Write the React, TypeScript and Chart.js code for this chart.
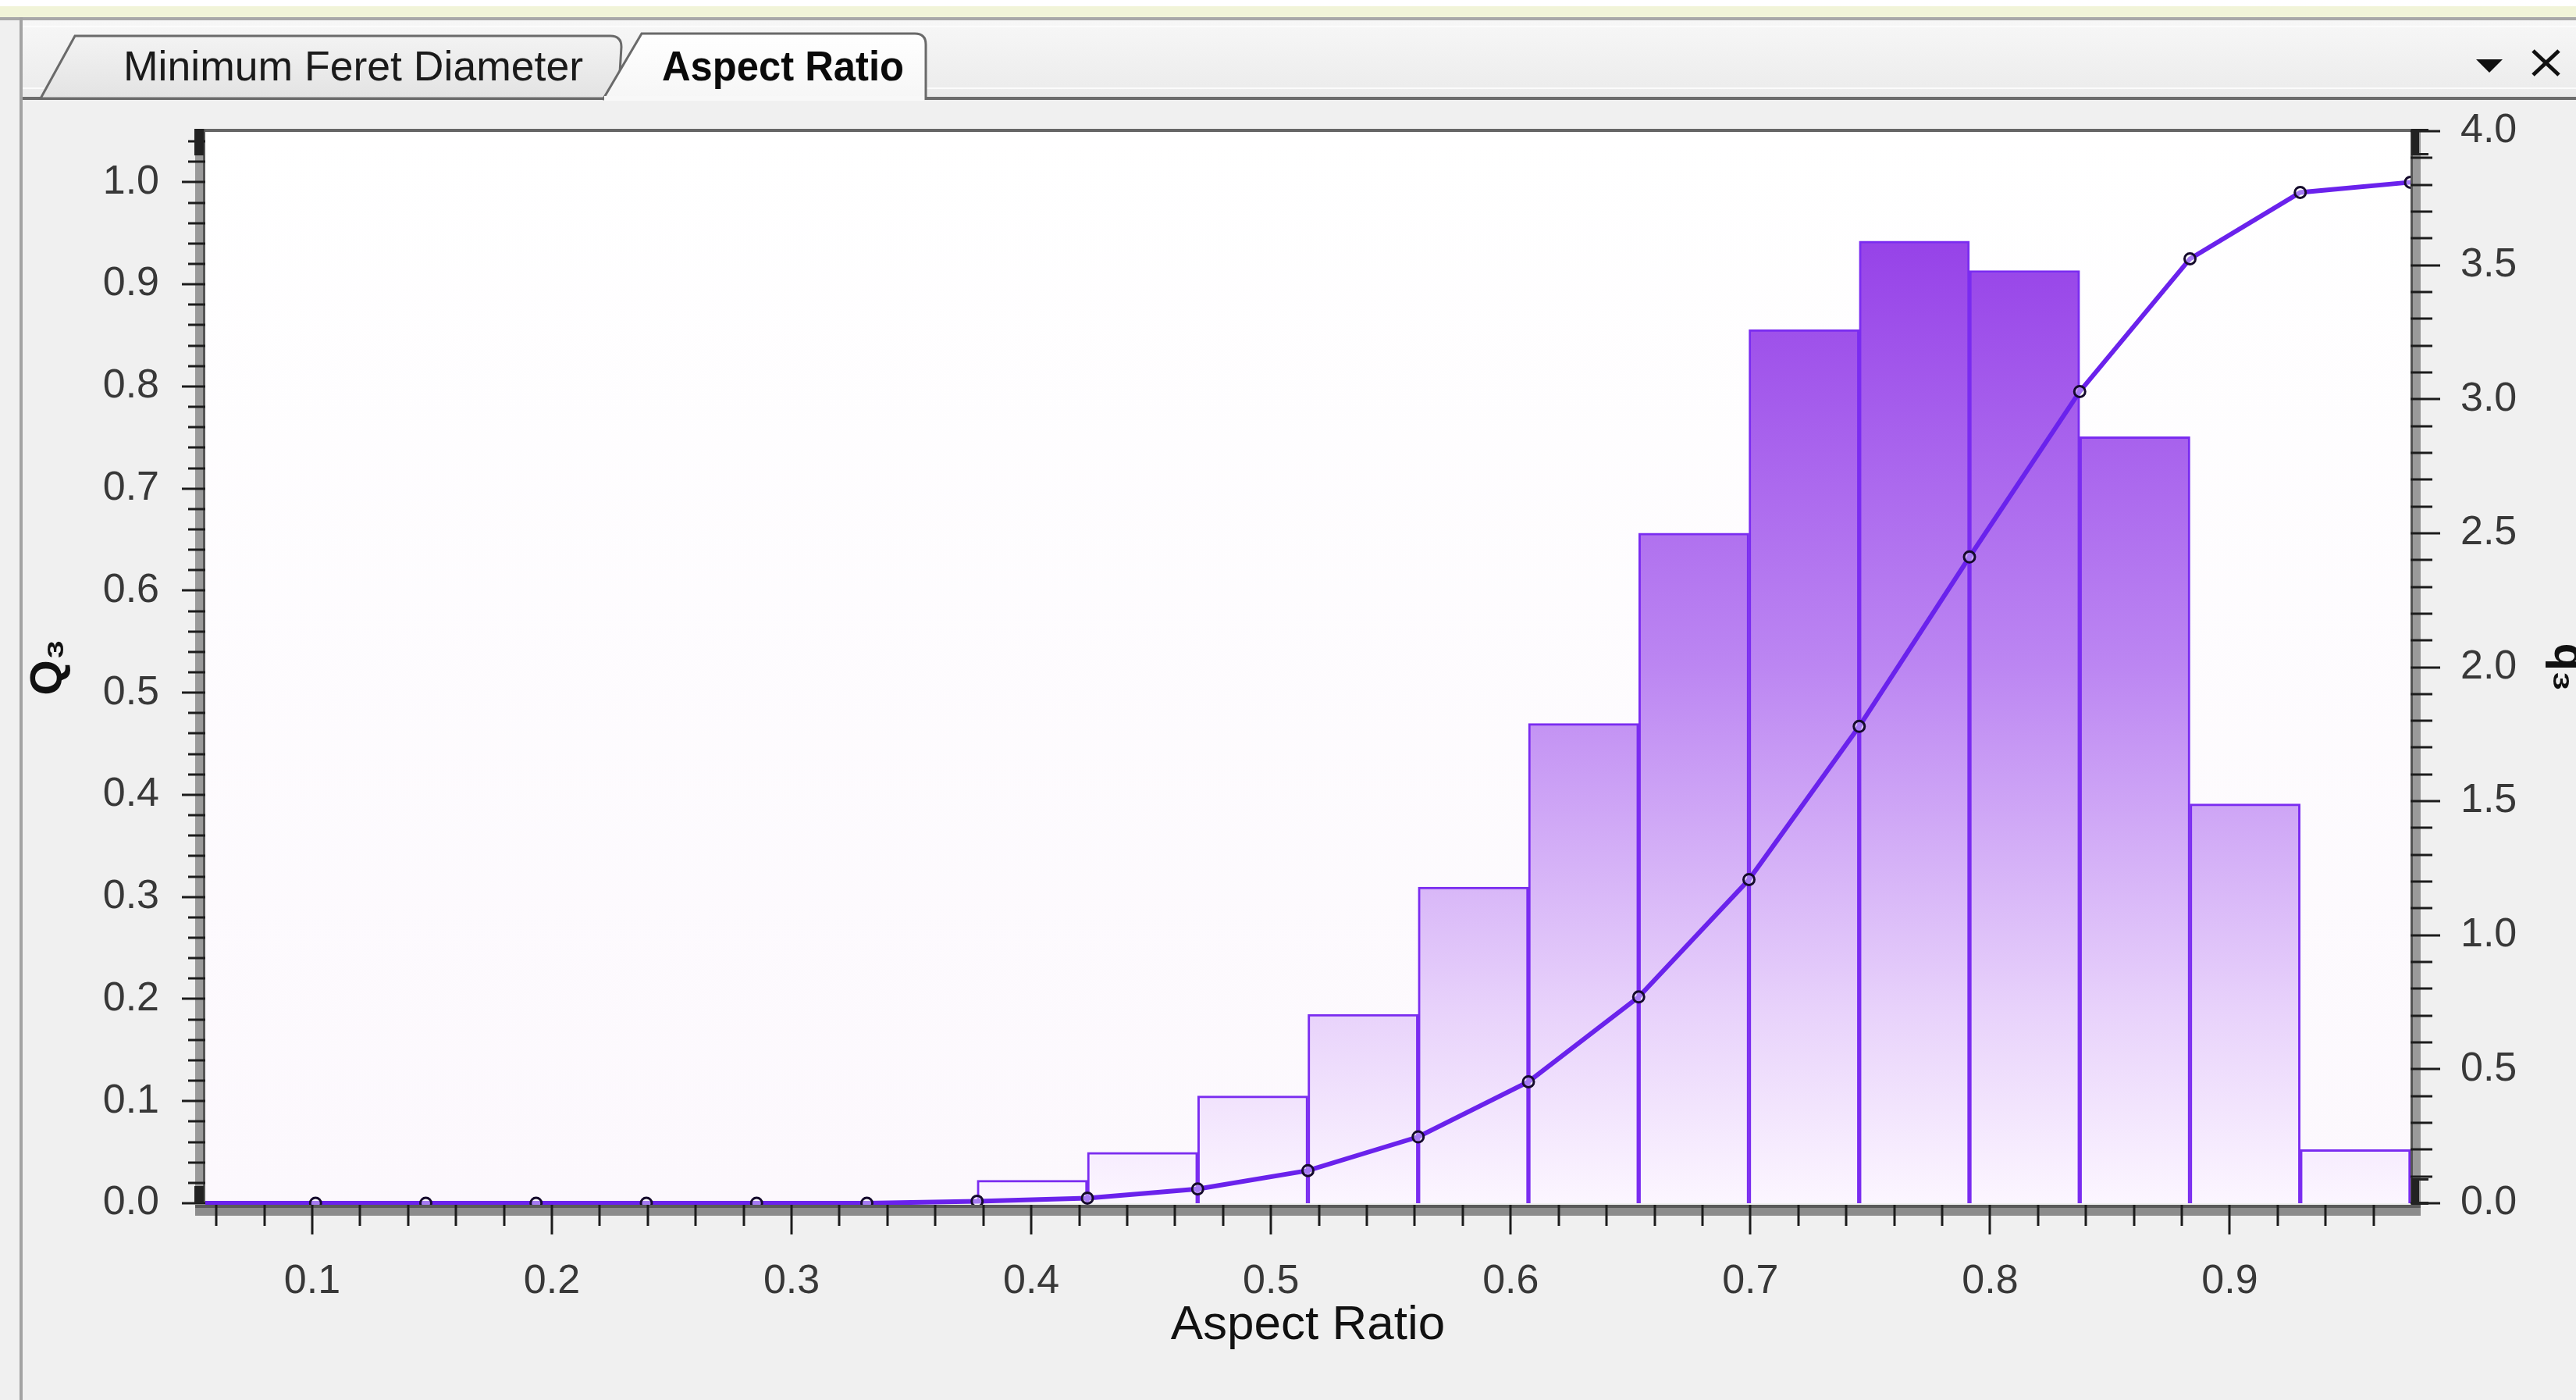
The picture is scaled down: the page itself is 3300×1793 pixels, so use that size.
import React, { useEffect, useRef } from 'react';
import { Chart, registerables } from 'chart.js';

Chart.register(...registerables);

// ---- data ----
const binEdges = [
  0.0554, 0.1014, 0.1474, 0.1934, 0.2394, 0.2854, 0.3314, 0.3774, 0.4234, 0.4694, 0.5154,
  0.5614, 0.6074, 0.6534, 0.6994, 0.7454, 0.7914, 0.8374, 0.8834, 0.9294, 0.9754,
];
// density q3 per bin (right axis)
const q3Density = [
  0, 0, 0, 0, 0, 0, 0, 0.086, 0.19, 0.4, 0.705, 1.18, 1.79, 2.5, 3.26, 3.59, 3.48, 2.86, 1.49, 0.2,
];
// cumulative Q3 at each bin edge (left axis)
const Q3Cumulative = [
  0, 0, 0, 0, 0, 0, 0, 0.002, 0.005, 0.014, 0.032, 0.065, 0.119, 0.202, 0.317, 0.467, 0.633,
  0.795, 0.925, 0.99, 1.0,
];
const markerRadius = [0, 7, 7, 7, 7, 7, 7, 7, 7, 7, 7, 7, 7, 7, 7, 7, 7, 7, 7, 7, 7];
const xTickValues = [0.1, 0.2, 0.3, 0.4, 0.5, 0.6, 0.7, 0.8, 0.9];
const leftTickValues = [0, 0.1, 0.2, 0.3, 0.4, 0.5, 0.6, 0.7, 0.8, 0.9, 1.0];
const rightTickValues = [0, 0.5, 1.0, 1.5, 2.0, 2.5, 3.0, 3.5, 4.0];
const xTitle = 'Aspect Ratio';
const leftTitle = 'Q₃';
const rightTitle = 'q₃';
const tabLabels = ['Minimum Feret Diameter', 'Aspect Ratio'];

const W = 3300;
const H = 1793;
const AREA = { left: 263, right: 3088, top: 168, bottom: 1541 };

const frameAndTicks = {
  id: 'frameAndTicks',
  beforeDatasetsDraw(chart: any) {
    const { ctx, chartArea: a } = chart;
    ctx.save();
    const g = ctx.createLinearGradient(0, a.top, 0, a.bottom);
    g.addColorStop(0, '#ffffff');
    g.addColorStop(1, '#fcf8fd');
    ctx.fillStyle = g;
    ctx.fillRect(a.left, a.top, a.right - a.left, a.bottom - a.top);
    ctx.restore();
  },
  afterDatasetsDraw(chart: any) {
    const { ctx, chartArea: a, scales } = chart;
    const sx = scales.x;
    const sl = scales.yL;
    const sr = scales.yR;
    ctx.save();
    // top border
    ctx.fillStyle = '#666666';
    ctx.fillRect(a.left - 2, a.top - 3, a.right - a.left + 4, 4);

    // left band
    ctx.fillStyle = '#9a9a9a';
    ctx.fillRect(a.left - 13, a.top - 3, 13, a.bottom - a.top + 3);
    ctx.fillStyle = '#555555';
    ctx.fillRect(a.left - 3, a.top - 3, 3, a.bottom - a.top + 3);
    // right band
    ctx.fillStyle = '#9a9a9a';
    ctx.fillRect(a.right, a.top - 3, 13, a.bottom - a.top + 3);
    ctx.fillStyle = '#555555';
    ctx.fillRect(a.right, a.top - 3, 3, a.bottom - a.top + 3);
    // bottom band
    ctx.fillStyle = '#8c8c8c';
    ctx.fillRect(a.left - 13, a.bottom + 2, a.right - a.left + 26, 14);
    ctx.fillStyle = '#5a5a5a';
    ctx.fillRect(a.left - 13, a.bottom + 2, a.right - a.left + 26, 4);

    ctx.fillStyle = '#1c1c1c';
    // left ticks
    for (let i = 0; i <= 52; i++) {
      const v = i * 0.02;
      const y = Math.round(sl.getPixelForValue(v));
      const major = i % 5 === 0;
      const x0 = major ? a.left - 30 : a.left - 22;
      ctx.fillRect(x0, y - 1.5, a.left - x0, 3);
    }
    // right ticks
    for (let i = 0; i <= 40; i++) {
      const v = i * 0.1;
      const y = Math.round(sr.getPixelForValue(v));
      const major = i % 5 === 0;
      const len = major ? 38 : 28;
      ctx.fillRect(a.right, y - 1.5, len, 3);
    }
    // bottom ticks
    for (let i = 3; i <= 48; i++) {
      const v = i * 0.02;
      const x = Math.round(sx.getPixelForValue(v));
      const major = i % 5 === 0;
      const len = major ? 38 : 27;
      ctx.fillRect(x - 1.5, a.bottom + 2, 3, len);
    }
    // end handles
    ctx.fillStyle = '#222222';
    ctx.fillRect(a.left - 14, a.top - 3, 12, 34);
    ctx.fillRect(a.left - 14, a.bottom - 22, 12, 22);
    ctx.fillRect(a.right + 1, a.top - 3, 10, 34);
    ctx.fillRect(a.right + 1, a.top - 3, 22, 4);
    ctx.fillRect(a.right + 1, a.top + 28, 22, 3);
    ctx.fillRect(a.right + 1, a.bottom - 32, 10, 32);
    ctx.fillRect(a.right + 1, a.bottom - 32, 22, 3);
    ctx.fillRect(a.right + 1, a.bottom - 2, 22, 4);
    ctx.restore();
  },
};

function fixWidth(w: number) {
  return (scale: any) => {
    scale.width = w;
  };
}

export default function App() {
  const canvasRef = useRef<HTMLCanvasElement | null>(null);

  useEffect(() => {
    document.body.style.margin = '0';
    const canvas = canvasRef.current;
    if (!canvas) return;

    const centers = q3Density.map((_, i) => (binEdges[i] + binEdges[i + 1]) / 2);
    const barData = q3Density.map((v, i) => ({ x: centers[i], y: v > 0 ? v : null }));
    const lineData = Q3Cumulative.map((v, i) => ({ x: binEdges[i], y: v }));

    const barFill = (context: any) => {
      const chart = context.chart;
      const a = chart.chartArea;
      if (!a) return '#b57cf0';
      const g = chart.ctx.createLinearGradient(0, a.top, 0, a.bottom);
      g.addColorStop(0, '#8a30e6');
      g.addColorStop(0.1, '#9642e8');
      g.addColorStop(0.5, '#bc86f2');
      g.addColorStop(0.82, '#e8d2fb');
      g.addColorStop(1, '#fcf6ff');
      return g;
    };

    const tickFont = { family: 'Liberation Sans, Arial, sans-serif', size: 52 };
    const titleFont = { family: 'Liberation Sans, Arial, sans-serif', size: 58, weight: 'bold' as const };

    const chart = new Chart(canvas, {
      type: 'bar',
      data: {
        datasets: [
          {
            type: 'line',
            label: 'Q3',
            data: lineData,
            yAxisID: 'yL',
            xAxisID: 'x',
            borderColor: '#6a22ec',
            borderWidth: 6,
            tension: 0,
            pointRadius: markerRadius,
            pointBorderColor: '#150a2c',
            pointBorderWidth: 3,
            pointBackgroundColor: 'rgba(255,255,255,0.4)',
            order: 0,
            clip: 10,
          } as any,
          {
            type: 'bar',
            label: 'q3',
            data: barData,
            yAxisID: 'yR',
            xAxisID: 'x',
            backgroundColor: barFill,
            borderColor: '#7a2cf0',
            borderWidth: 3,
            barPercentage: 1,
            categoryPercentage: 1,
            order: 1,
          } as any,
        ],
      },
      options: {
        responsive: false,
        animation: false,
        layout: { padding: { top: AREA.top, left: 0, right: 0, bottom: 0 } },
        plugins: {
          legend: { display: false },
          tooltip: { enabled: false },
        },
        scales: {
          x: {
            type: 'linear',
            position: 'bottom',
            min: binEdges[0],
            max: binEdges[binEdges.length - 1],
            offset: false,
            grid: { display: false, drawTicks: false, offset: false },
            border: { display: false },
            afterBuildTicks: (scale: any) => {
              scale.ticks = xTickValues.map((v) => ({ value: v }));
            },
            afterFit: (scale: any) => {
              scale.height = H - AREA.bottom;
            },
            ticks: {
              autoSkip: false,
              maxRotation: 0,
              padding: 69,
              color: '#383838',
              font: tickFont,
              callback: (v: any) => Number(v).toFixed(1),
            },
            title: {
              display: true,
              text: xTitle,
              color: '#111111',
              font: { family: 'Liberation Sans, Arial, sans-serif', size: 62 },
              padding: { top: 0, bottom: 58 },
            },
          },
          yL: {
            type: 'linear',
            position: 'left',
            min: 0,
            max: 1.05,
            grid: { display: false, drawTicks: false },
            border: { display: false },
            afterBuildTicks: (scale: any) => {
              scale.ticks = leftTickValues.map((v) => ({ value: v }));
            },
            afterFit: fixWidth(AREA.left),
            ticks: {
              autoSkip: false,
              padding: 59,
              color: '#383838',
              font: tickFont,
              callback: (v: any) => Number(v).toFixed(1),
            },
            title: {
              display: true,
              text: leftTitle,
              color: '#111111',
              font: titleFont,
              padding: { top: 28, bottom: 0 },
            },
          },
          yR: {
            type: 'linear',
            position: 'right',
            min: 0,
            max: 4.0,
            grid: { display: false, drawTicks: false },
            border: { display: false },
            afterBuildTicks: (scale: any) => {
              scale.ticks = rightTickValues.map((v) => ({ value: v }));
            },
            afterFit: fixWidth(W - AREA.right),
            ticks: {
              autoSkip: false,
              padding: 64,
              color: '#383838',
              font: tickFont,
              callback: (v: any) => Number(v).toFixed(1),
            },
            title: {
              display: true,
              text: rightTitle,
              color: '#111111',
              font: titleFont,
              padding: { top: -24, bottom: 0 },
            },
          },
        },
      } as any,
      plugins: [frameAndTicks],
    });

    return () => {
      chart.destroy();
    };
  }, []);

  const tabFont = 'Liberation Sans, Arial, sans-serif';

  return (
    <div
      style={{
        position: 'relative',
        width: W,
        height: H,
        overflow: 'hidden',
        background: '#f0f0f0',
      }}
    >
      <canvas
        ref={canvasRef}
        width={W}
        height={H}
        style={{ position: 'absolute', left: 0, top: 0, width: W, height: H }}
      />
      <svg
        width={W}
        height={H}
        style={{ position: 'absolute', left: 0, top: 0, pointerEvents: 'none' }}
      >
        <defs>
          <linearGradient id="strip" x1="0" y1="0" x2="0" y2="1">
            <stop offset="0" stopColor="#f7f7f7" />
            <stop offset="1" stopColor="#ebebeb" />
          </linearGradient>
          <linearGradient id="tabIn" x1="0" y1="0" x2="0" y2="1">
            <stop offset="0" stopColor="#f3f3f3" />
            <stop offset="1" stopColor="#e3e3e3" />
          </linearGradient>
          <linearGradient id="tabAct" x1="0" y1="0" x2="0" y2="1">
            <stop offset="0" stopColor="#ffffff" />
            <stop offset="1" stopColor="#f6f6f6" />
          </linearGradient>
        </defs>
        <rect x={0} y={0} width={W} height={8} fill="#ffffff" />
        <rect x={0} y={8} width={W} height={14} fill="#f1f4d8" />
        <rect x={0} y={22} width={W} height={4} fill="#a8a8a8" />
        <rect x={27} y={26} width={W - 27} height={98} fill="url(#strip)" />
        <rect x={27} y={33} width={W - 27} height={2} fill="#fbfbfb" />
        <rect x={27} y={112} width={W - 27} height={2} fill="#fbfbfb" />
        <rect x={27} y={124} width={W - 27} height={4} fill="#6c6c6c" />
        <rect x={25} y={22} width={4} height={H - 22} fill="#a3a3a3" />
        {/* inactive tab */}
        <path
          d="M 52 126 L 96 46 L 782 46 Q 796 46 796 60 L 792 126 Z"
          fill="url(#tabIn)"
          stroke="#6a6a6a"
          strokeWidth={3}
        />
        {/* active tab */}
        <path
          d="M 772 128 L 822 43 L 1172 43 Q 1186 43 1186 57 L 1186 128"
          fill="url(#tabAct)"
          stroke="#6a6a6a"
          strokeWidth={3}
        />
        <rect x={774} y={123} width={410} height={6} fill="#f8f8f8" />
        <text
          x={158}
          y={103}
          fontFamily={tabFont}
          fontSize={54}
          fill="#1a1a1a"
          textLength={589}
          lengthAdjust="spacingAndGlyphs"
        >
          {tabLabels[0]}
        </text>
        <text
          x={848}
          y={103}
          fontFamily={tabFont}
          fontSize={54}
          fontWeight="bold"
          fill="#0a0a0a"
          textLength={310}
          lengthAdjust="spacingAndGlyphs"
        >
          {tabLabels[1]}
        </text>
        <polygon points="3172,76 3206,76 3189,93" fill="#111111" />
        <line x1={3245} y1={65} x2={3278} y2={96} stroke="#111111" strokeWidth={5} />
        <line x1={3278} y1={65} x2={3245} y2={96} stroke="#111111" strokeWidth={5} />
      </svg>
    </div>
  );
}
